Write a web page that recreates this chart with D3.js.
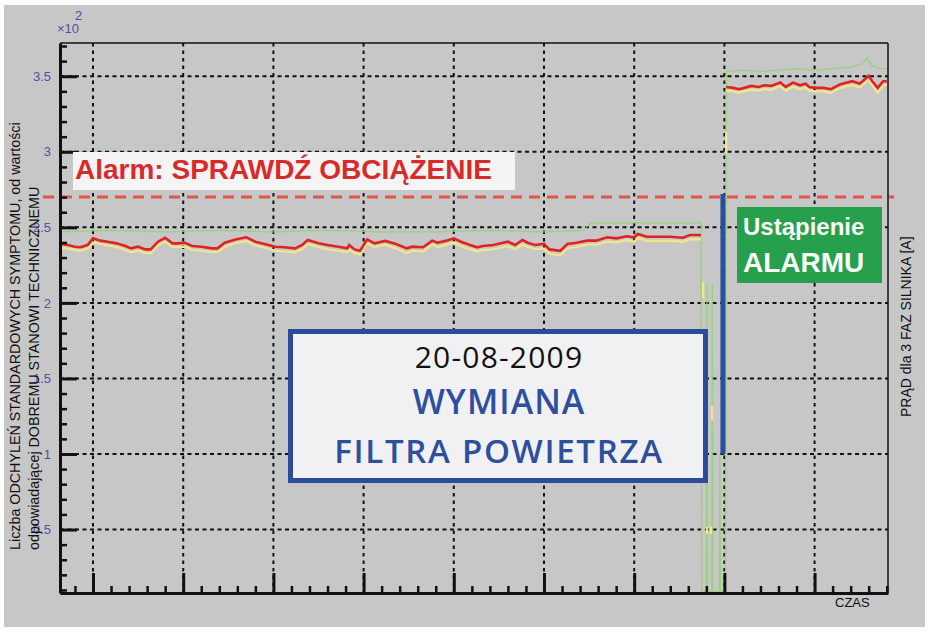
<!DOCTYPE html>
<html><head><meta charset="utf-8">
<script src="https://cdn.jsdelivr.net/npm/d3@7"></script>
<style>body{margin:0;background:#fff}svg{display:block}</style>
</head><body>
<svg id="chart" width="930" height="633"></svg>
<script>
// ---------- DATA ----------
const time = [32,36,40,43,47,50,54,58,63,68,71,75,79,82,86,90,94,97,101,105,110,116,119,123,129,135,140,145,151,156,162,166,169,175,180,186,191,192,195,198,202,206,212,218,224,227,233,238,241,246,250,254,259,263,266,272,276,280,284,288,291,295,300,303,309,313,318,324,329,335,340,346,350,352,357,362,370,377,381,387,
  394,
  401,405,408,411,415,419,422,426,431,434,438,442,445,447,451,455,459,464,468,471,475,480,482,485,488,490];
const redValues = [2.39,2.383,2.372,2.368,2.383,2.427,2.412,2.405,2.394,2.376,2.361,2.372,2.354,2.354,2.405,2.431,2.394,2.394,2.398,2.376,2.372,2.361,2.361,2.398,2.42,2.434,2.405,2.39,2.372,2.368,2.361,2.383,2.416,2.394,2.383,2.372,2.361,2.383,2.354,2.345,2.42,2.394,2.41,2.39,2.361,2.372,2.368,2.412,2.398,2.412,2.427,2.405,2.383,2.368,2.376,2.383,2.394,2.405,2.383,2.416,2.398,2.383,2.39,2.354,2.345,2.39,2.398,2.412,2.412,2.434,2.427,2.441,2.434,2.456,2.438,2.438,2.438,2.431,2.449,2.449,
  null,
  3.429,3.423,3.414,3.423,3.436,3.429,3.44,3.436,3.458,3.429,3.458,3.44,3.451,3.429,3.423,3.423,3.414,3.445,3.458,3.467,3.451,3.502,3.467,3.423,3.467,3.467];
const yellowValues = [2.365,2.36,2.35,2.345,2.36,2.4,2.39,2.38,2.37,2.35,2.335,2.345,2.33,2.33,2.38,2.405,2.37,2.37,2.372,2.35,2.345,2.335,2.335,2.37,2.395,2.41,2.38,2.365,2.345,2.34,2.335,2.355,2.39,2.37,2.355,2.345,2.335,2.355,2.33,2.32,2.395,2.37,2.385,2.36,2.33,2.345,2.34,2.385,2.37,2.385,2.4,2.375,2.355,2.34,2.35,2.355,2.365,2.375,2.355,2.385,2.37,2.355,2.36,2.325,2.315,2.36,2.37,2.385,2.385,2.405,2.4,2.415,2.405,2.43,2.41,2.41,2.41,2.405,2.42,2.42,
  null,
  3.405,3.4,3.39,3.4,3.41,3.405,3.415,3.41,3.435,3.405,3.43,3.415,3.425,3.405,3.4,3.4,3.39,3.42,3.435,3.44,3.425,3.475,3.44,3.39,3.44,3.445];
const greenTime = [32,60,90,120,150,180,210,240,270,300,322,326,350,387,
  387.4,390,390.3,390.6,393,393.3,393.6,397.2,397.5,397.8,400.6,401,
  410,420,430,440,450,460,470,476,479,482,486,490];
const greenValues = [2.47,2.48,2.47,2.48,2.47,2.48,2.47,2.47,2.48,2.47,2.48,2.53,2.53,2.53,
  0.09,0.09,2.12,0.09,0.09,2.12,0.09,0.09,1.0,0.09,0.09,3.53,
  3.54,3.53,3.54,3.55,3.54,3.55,3.56,3.58,3.62,3.57,3.55,3.55];
// short yellow flickers during the outage
const spikeTime = [388.2, 390.4, 392.6, 393.2, 401];
const spikeLow  = [2.03, 0.47, 0.47, 1.22, 2.99];
const spikeHigh = [2.14, 0.52, 0.52, 1.32, 3.13];

const yMajorTicks = [0.5,1,1.5,2,2.5,3,3.5];
const yTickLabels = ["0.5","1","1.5","2","2.5","3","3.5"];
const xMajorTicks = [50,100,150,200,250,300,350,400,450];
const alarmLevel = 2.7;
const eventTime = 399.2;
const eventRange = [1.0, 2.72];

const alarmText = "Alarm: SPRAWDŹ OBCIĄŻENIE";
const boxLines = ["20-08-2009","WYMIANA","FILTRA POWIETRZA"];
const greenLines = ["Ustąpienie","ALARMU"];
const yTitle = ["Liczba ODCHYLEŃ  STANDARDOWYCH  SYMPTOMU,  od wartości","odpowiadającej DOBREMU  STANOWI  TECHNICZNEMU"];
const y2Title = "PRĄD dla 3 FAZ SILNIKA [A]";
const xTitle = "CZAS";

// ---------- DRAW ----------
const svg = d3.select("#chart");
const L = 60, R = 888, T = 43, B = 593;
const x = d3.scaleLinear().domain([31.7, 490.7]).range([L, R]);
const y = d3.scaleLinear().domain([0.08, 3.72]).range([B, T]);

svg.append("rect").attr("x",4).attr("y",5).attr("width",921).attr("height",622).attr("fill","#c7c7c7");

// grid
const grid = svg.append("g");
grid.selectAll("line.h").data(yMajorTicks).join("line")
  .attr("x1",L).attr("x2",R).attr("y1",d=>y(d)).attr("y2",d=>y(d))
  .attr("stroke","#111").attr("stroke-width",2).attr("stroke-dasharray","4,3.5");
grid.selectAll("line.v").data(xMajorTicks).join("line")
  .attr("y1",T).attr("y2",B).attr("x1",d=>x(d)).attr("x2",d=>x(d))
  .attr("stroke","#111").attr("stroke-width",2).attr("stroke-dasharray","3.5,4");

// series
const pts = vals => time.map((t,i)=>({t, v: vals[i]}));
const line = d3.line().defined(d=>d.v!=null).x(d=>x(d.t)).y(d=>y(d.v));
svg.append("path").datum(greenTime.map((t,i)=>({t, v: greenValues[i]})))
  .attr("d", line).attr("fill","none").attr("stroke","#8fd46b").attr("stroke-width",1.3).attr("opacity",0.85);
svg.append("path").datum(pts(yellowValues)).attr("d", line)
  .attr("fill","none").attr("stroke","#f0e68a").attr("stroke-width",2.2);
svg.selectAll("line.spike").data(spikeTime).join("line")
  .attr("x1",d=>x(d)).attr("x2",d=>x(d))
  .attr("y1",(d,i)=>y(spikeLow[i])).attr("y2",(d,i)=>y(spikeHigh[i]))
  .attr("stroke","#f0e68a").attr("stroke-width",2.2);
svg.append("path").datum(pts(redValues)).attr("d", line)
  .attr("fill","none").attr("stroke","#e02222").attr("stroke-width",2.6);

// alarm threshold
svg.append("line").attr("x1",43).attr("x2",894).attr("y1",y(alarmLevel)).attr("y2",y(alarmLevel))
  .attr("stroke","#e8524a").attr("stroke-width",3).attr("stroke-dasharray","11,7");

// event marker
svg.append("line").attr("x1",x(eventTime)).attr("x2",x(eventTime))
  .attr("y1",y(eventRange[1])).attr("y2",y(eventRange[0]))
  .attr("stroke","#2a4ea0").attr("stroke-width",5);

// frame
svg.append("line").attr("x1",L).attr("x2",R).attr("y1",T).attr("y2",T).attr("stroke","#111").attr("stroke-width",1.5);
svg.append("line").attr("x1",R).attr("x2",R).attr("y1",T).attr("y2",B).attr("stroke","#111").attr("stroke-width",1.5);

// axes
const yMinor = d3.range(0.1, 3.75, 0.1).filter(v=>Math.abs(v*2-Math.round(v*2))>0.01);
const xMinor = d3.range(40, 491, 10).filter(v=>v%50!==0);
const gY = svg.append("g").attr("transform",`translate(${L},0)`);
gY.call(d3.axisLeft(y).tickValues(yMinor).tickSize(-7).tickFormat("").tickSizeOuter(0));
gY.call(g=>g.select(".domain").remove());
const gY2 = svg.append("g").attr("transform",`translate(${L},0)`);
gY2.call(d3.axisLeft(y).tickValues(yMajorTicks).tickSize(-17).tickPadding(9).tickSizeOuter(0)
  .tickFormat((d,i)=>yTickLabels[i]));
gY2.select(".domain").attr("stroke-width",3).attr("stroke","#111");
gY2.selectAll(".tick line").attr("stroke-width",3).attr("stroke","#111");
gY.selectAll(".tick line").attr("stroke-width",2.5).attr("stroke","#111");
gY2.selectAll(".tick text").attr("fill","#5050a2").attr("font-family","Liberation Sans, Arial, sans-serif").attr("font-size",13);

const gX = svg.append("g").attr("transform",`translate(0,${B})`);
gX.call(d3.axisBottom(x).tickValues(xMinor).tickSize(-7).tickFormat("").tickSizeOuter(0));
gX.select(".domain").remove();
gX.selectAll(".tick line").attr("stroke-width",2.5).attr("stroke","#111");
const gX2 = svg.append("g").attr("transform",`translate(0,${B})`);
gX2.call(d3.axisBottom(x).tickValues(xMajorTicks).tickSize(-20).tickFormat("").tickSizeOuter(0));
gX2.select(".domain").attr("stroke-width",3).attr("stroke","#111");
gX2.selectAll(".tick line").attr("stroke-width",3).attr("stroke","#111");

// exponent label
svg.append("text").attr("x",57).attr("y",33).text("×10").attr("fill","#5050a2")
  .attr("font-family","Liberation Sans, Arial, sans-serif").attr("font-size",13);
svg.append("text").attr("x",75).attr("y",20).text("2").attr("fill","#5050a2")
  .attr("font-family","Liberation Sans, Arial, sans-serif").attr("font-size",13);

// axis titles
const sans = "Liberation Sans, Arial, sans-serif";
svg.selectAll("text.yt").data(yTitle).join("text")
  .attr("transform",(d,i)=>`translate(${[20,39][i]},550) rotate(-90)`)
  .attr("font-family",sans).attr("font-size",14.3).attr("fill","#111").text(d=>d);
svg.append("text").attr("transform","translate(911,417) rotate(-90)")
  .attr("font-family",sans).attr("font-size",14).attr("fill","#111").text(y2Title);
svg.append("text").attr("x",835).attr("y",606.5).attr("font-family",sans).attr("font-size",13)
  .attr("fill","#111").text(xTitle);

// alarm label
svg.append("rect").attr("x",73).attr("y",152).attr("width",442).attr("height",38).attr("fill","#f4f4f4");
svg.append("text").attr("x",75).attr("y",179).attr("font-family",sans).attr("font-weight","bold")
  .attr("font-size",28).attr("fill","#d92a2a").text(alarmText);

// blue box
svg.append("rect").attr("x",290.5).attr("y",331.5).attr("width",415).attr("height",149)
  .attr("fill","#f1f1f4").attr("stroke","#2b4c9b").attr("stroke-width",5);
const boxFont = "Open Sans, Lato, sans-serif";
svg.selectAll("text.bx").data(boxLines).join("text")
  .attr("x",499).attr("y",(d,i)=>[368,414,463][i]).attr("text-anchor","middle")
  .attr("font-family",boxFont).attr("font-weight",(d,i)=>i===0?500:600)
  .attr("font-size",(d,i)=>[30,34,33][i]).attr("letter-spacing",(d,i)=>[1.2,1,1.7][i])
  .attr("fill",(d,i)=>i===0?"#111":"#2d4f9e").text(d=>d);

// green box
svg.append("rect").attr("x",737).attr("y",207).attr("width",145).attr("height",76).attr("fill","#27a04e");
svg.selectAll("text.gb").data(greenLines).join("text")
  .attr("x",743).attr("y",(d,i)=>[235,272][i]).attr("font-family",sans).attr("font-weight","bold")
  .attr("font-size",(d,i)=>[24,28][i]).attr("fill","#fafafa").text(d=>d);
</script>
</body></html>
